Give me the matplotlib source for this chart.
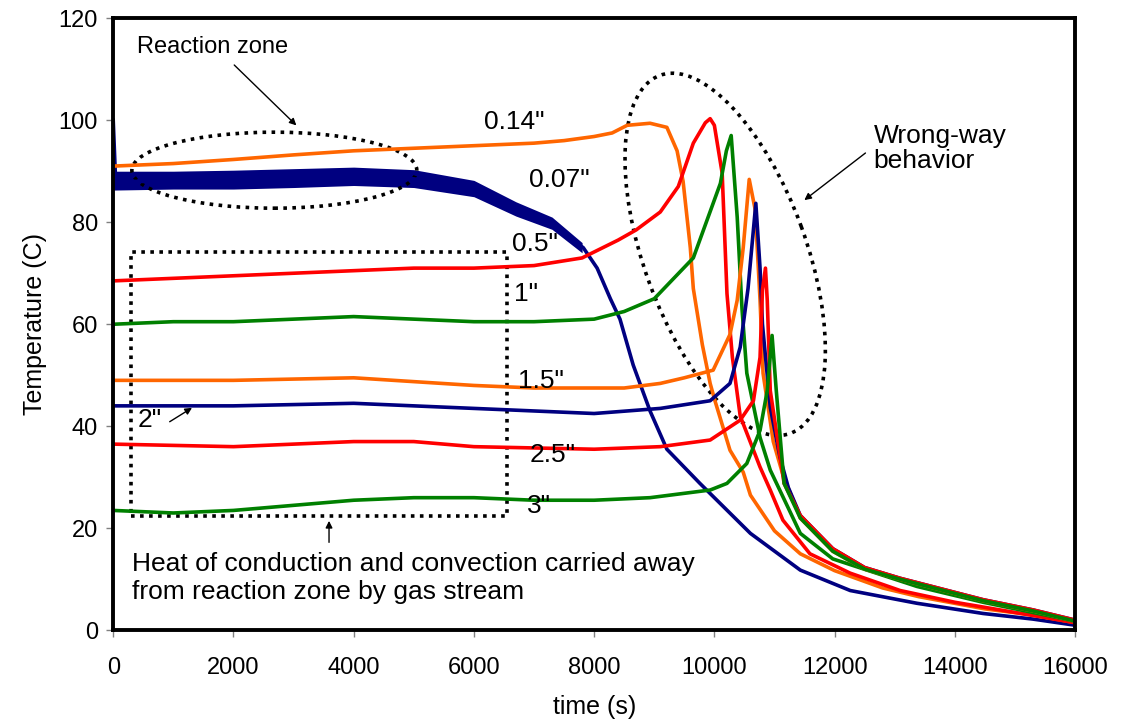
import matplotlib
matplotlib.use("Agg")
import matplotlib.pyplot as plt
from matplotlib.patches import Ellipse, Rectangle
from matplotlib.transforms import ScaledTranslation

plt.rcParams["font.family"] = ["Liberation Sans", "DejaVu Sans"]

# thermocouple traces: time (s), temperature (C)
t_007 = [0, 40, 1000, 2000, 3000, 4000, 5000, 5600, 6000, 6700, 7270, 7820, 8050, 8270, 8430,
         8650, 8930, 9210, 9760, 10600, 11430, 12260, 13370, 14470, 15300, 16000]
T_007 = [100, 88, 88, 88, 88.5, 89, 88.5, 87.6, 86.5, 82.5, 79.8, 75, 71, 65, 61,
         52, 43, 35.5, 28.8, 19, 11.8, 7.8, 5.3, 3.3, 2.2, 1]
# noisy band of the 0.07" trace
t_007_band = [0, 1000, 2000, 3000, 4000, 5000, 6000, 6700, 7300, 7800]
T_007_hi = [90, 90, 90.2, 90.5, 90.8, 90.3, 88.2, 84, 81, 76]
T_007_lo = [86.3, 86.5, 86.5, 86.8, 87.2, 86.8, 85, 81.2, 78.6, 74]

t_014 = [0, 1000, 2000, 3000, 4000, 5000, 6000, 7000, 7500, 8000, 8300, 8550, 8930, 9210, 9380,
         9480, 9600, 9650, 9800, 9930, 10010, 10260, 10480, 10600, 11000, 11430, 12000, 12800,
         13400, 14500, 15300, 16000]
T_014 = [91, 91.5, 92.3, 93.2, 94, 94.5, 95, 95.5, 96, 96.8, 97.5, 99, 99.4, 98.6, 94,
         88, 75, 67, 56, 48.4, 45, 35.3, 31, 26.5, 19.5, 15, 11.7, 8.3,
         6.6, 4.2, 3, 1.5]

t_05 = [0, 1000, 2000, 3000, 4000, 5000, 6000, 7000, 7800, 8400, 8700, 9100, 9400, 9650, 9850,
        9930, 10000, 10130, 10210, 10300, 10430, 10760, 10930, 11140, 11590, 12260, 13090, 14000,
        15000, 16000]
T_05 = [68.5, 69, 69.5, 70, 70.5, 71, 71, 71.5, 73, 76.5, 78.5, 82, 87, 95.5, 99.5,
        100.3, 99, 89.6, 66, 53.5, 42, 32, 27.5, 21.6, 15, 11.2, 7.8, 5.5,
        3.5, 1.5]

t_1 = [0, 1000, 2000, 3000, 4000, 5000, 6000, 7000, 8000, 8500, 9000, 9650, 10100, 10200, 10280,
       10380, 10460, 10540, 10760, 10930, 11430, 11970, 13370, 14470, 16000]
T_1 = [60, 60.5, 60.5, 61, 61.5, 61, 60.5, 60.5, 61, 62.5, 65, 73, 87.6, 94, 97,
       81, 63, 50.4, 37.8, 31.4, 19, 14, 8.6, 5.5, 1.8]

t_15 = [0, 2000, 4000, 6000, 7000, 8000, 8500, 9100, 9500, 9980, 10260, 10380, 10480, 10580,
        10680, 10760, 10810, 10980, 11140, 11430, 11970, 12500, 13090, 14470, 15300, 16000]
T_15 = [49, 49, 49.5, 48, 47.5, 47.5, 47.5, 48.4, 49.5, 51, 58, 64.7, 75, 88.4,
        82.4, 64.7, 50.4, 37, 30.5, 22, 15.5, 12, 10, 5.8, 3.8, 1.8]

t_2 = [0, 2000, 4000, 6000, 7000, 8000, 9100, 9930, 10260, 10430, 10560, 10690, 10760, 10800,
       10930, 11090, 11230, 11430, 11970, 12500, 13090, 14470, 15300, 16000]
T_2 = [44, 44, 44.5, 43.5, 43, 42.5, 43.5, 45, 48.4, 55.5, 67, 83.7, 71, 60,
       43.7, 34, 28, 22.5, 16, 12.3, 10.2, 6, 4, 2]

t_25 = [0, 2000, 4000, 5000, 6000, 8000, 9100, 9930, 10430, 10650, 10760, 10800, 10850, 10880,
        10930, 11160, 11430, 11970, 12500, 13090, 14470, 15300, 16000]
T_25 = [36.5, 36, 37, 37, 36, 35.5, 36, 37.3, 41.2, 45, 53.5, 66.7, 71, 64.7,
        47, 28.8, 22.5, 16, 12.3, 10.2, 6, 4, 2]

t_3 = [0, 1000, 2000, 3000, 4000, 5000, 6000, 7000, 8000, 8930, 9930, 10210, 10540, 10760,
       10880, 10960, 11030, 11160, 11430, 11970, 12500, 13090, 14470, 15300, 16000]
T_3 = [23.5, 23, 23.5, 24.5, 25.5, 26, 26, 25.5, 25.5, 26, 27.5, 28.8, 32.7, 39.2,
       47, 57.8, 47, 28.8, 22, 15.5, 12, 10, 5.8, 3.8, 1.8]

NAVY = "#000080"
ORANGE = "#FF6600"
RED = "#FF0000"
GREEN = "#008000"

fig = plt.figure(figsize=(11.21, 7.27), dpi=100)
ax = fig.add_axes([0.101, 0.133, 0.858, 0.842])

lw = 2.6
ax.fill_between(t_007_band, T_007_lo, T_007_hi, color=NAVY, lw=0)
ax.plot(t_007, T_007, color=NAVY, lw=lw)
ax.plot(t_014, T_014, color=ORANGE, lw=lw)
ax.plot(t_05, T_05, color=RED, lw=lw)
ax.plot(t_1, T_1, color=GREEN, lw=lw)
ax.plot(t_15, T_15, color=ORANGE, lw=lw)
ax.plot(t_2, T_2, color=NAVY, lw=lw)
ax.plot(t_25, T_25, color=RED, lw=lw)
ax.plot(t_3, T_3, color=GREEN, lw=lw)

ax.set_xlim(0, 16000)
ax.set_ylim(0, 120)
ax.set_xticks(range(0, 16001, 2000))
ax.set_yticks(range(0, 121, 20))
ax.tick_params(direction="out", length=5, width=1, color="#808080", labelsize=17, pad=6)
ax.tick_params(axis="x", pad=14)
for s in ax.spines.values():
    s.set_linewidth(2.8)
    s.set_color("black")
ax.set_xlabel("time (s)", fontsize=18, labelpad=12)
ax.set_ylabel("Temperature (C)", fontsize=18, labelpad=8)

# curve labels
fs = 19
ax.text(6170, 99.6, '0.14"', fontsize=fs, va="center")
ax.text(6920, 88.2, '0.07"', fontsize=fs, va="center")
ax.text(6640, 75.7, '0.5"', fontsize=fs, va="center")
ax.text(6670, 66.0, '1"', fontsize=fs, va="center")
ax.text(6740, 48.8, '1.5"', fontsize=fs, va="center")
ax.text(400, 41.2, '2"', fontsize=fs, va="center")
ax.text(6920, 34.3, '2.5"', fontsize=fs, va="center")
ax.text(6890, 24.3, '3"', fontsize=fs, va="center")

arrow = dict(arrowstyle="-|>", color="black", lw=1, mutation_scale=10)
ax.annotate("", xy=(1350, 43.9), xytext=(900, 40.6), arrowprops=arrow)

# reaction zone
ax.text(400, 114.3, "Reaction zone", fontsize=17, va="center")
ax.annotate("", xy=(3080, 98.6), xytext=(1980, 111.2), arrowprops=arrow)
ax.add_patch(Ellipse((2680, 90.2), 4740, 14.9, fill=False, ls=(0, (1, 1.5)), lw=2.6,
                     color="black"))

# wrong-way behavior
ax.text(12650, 94.5, "Wrong-way\nbehavior", fontsize=fs, va="center", linespacing=1.05)
ax.annotate("", xy=(11460, 84), xytext=(12550, 93.9), arrowprops=arrow)
ax.add_patch(Ellipse((0, 0), 3.81, 1.62, angle=110, fill=False, ls=(0, (1, 1.5)), lw=2.6,
                     color="black",
                     transform=fig.dpi_scale_trans + ScaledTranslation(10180, 73.7, ax.transData)))

# heat carried away
ax.add_patch(Rectangle((300, 22.4), 6255, 51.7, fill=False, ls=(0, (1, 1.5)), lw=2.6,
                       color="black"))
ax.annotate("", xy=(3590, 22), xytext=(3590, 16.7), arrowprops=arrow)
ax.text(315, 10.3, "Heat of conduction and convection carried away\nfrom reaction zone by gas stream",
        fontsize=fs, va="center", linespacing=1.2)

fig.savefig("out.png", dpi=100)
